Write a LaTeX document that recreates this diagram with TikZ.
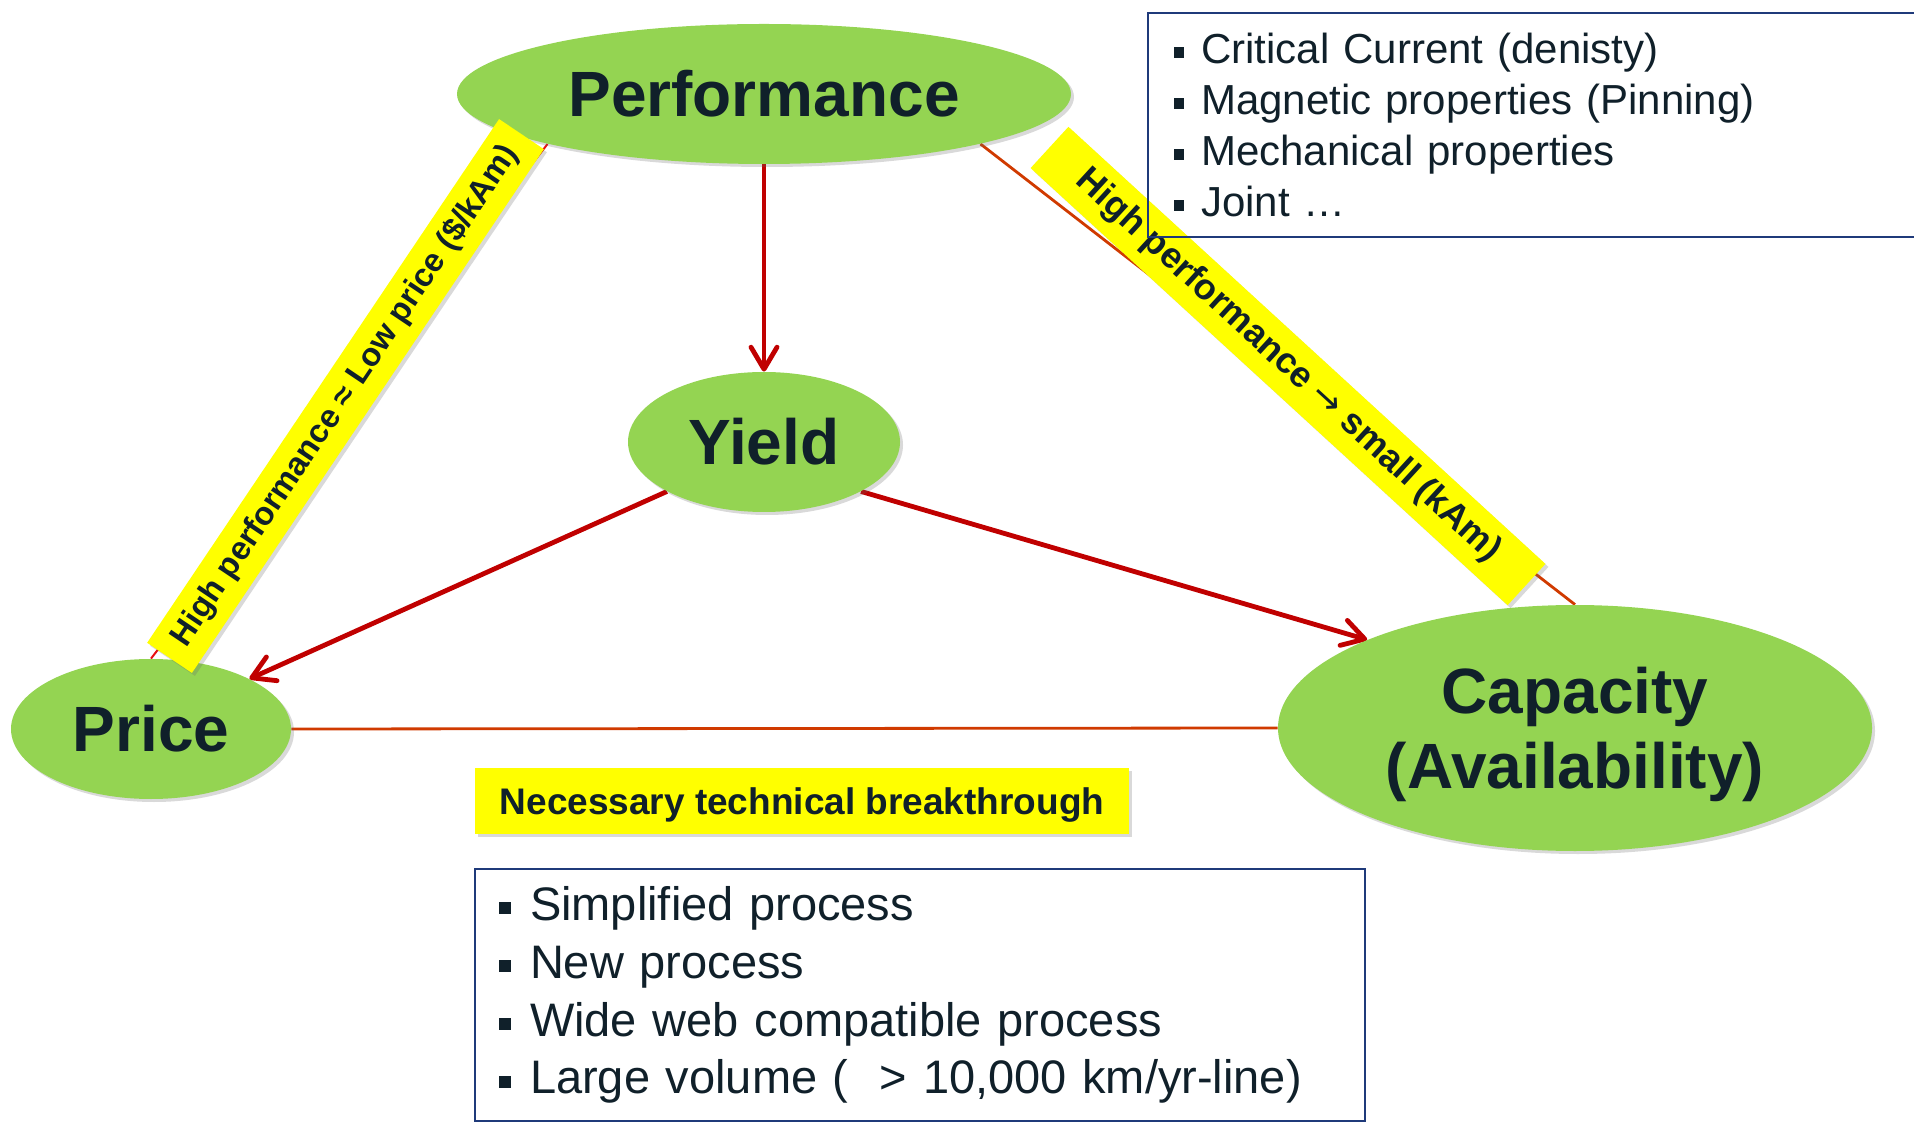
\documentclass[tikz,border=0pt]{standalone}
\usepackage{fontspec}
\setmainfont{Liberation Sans}
\newfontfamily\arrowfont{DejaVu Sans}
\usepackage{xcolor}
\definecolor{LeafGreen}{HTML}{94D452}
\definecolor{MarkYellow}{HTML}{FFFF00}
\definecolor{ArrowRed}{HTML}{C00000}
\definecolor{RustLine}{HTML}{D03A00}
\definecolor{LinkRed}{HTML}{E81010}
\definecolor{FrameNavy}{HTML}{1F3A7A}
\definecolor{InkDark}{HTML}{10202A}
\usepackage{tikz}
\usetikzlibrary{arrows.meta,positioning,shapes.geometric,shadows,backgrounds}
\newcommand{\sqbullet}{\rule[0.13em]{0.26em}{0.26em}\hspace{0.4em}}
\tikzset{
  softshadow/.style={
    drop shadow={shadow xshift=1.5pt,shadow yshift=-1.5pt,opacity=0.25,fill=black!60}
  },
  goalnode/.style={
    ellipse,
    fill=LeafGreen,
    inner sep=0pt,
    text=InkDark,
    align=center,
    font=\fontsize{32}{37.5}\selectfont\bfseries,
    softshadow
  },
  tradelabel/.style={
    fill=MarkYellow,
    text=InkDark,
    inner sep=0pt,
    minimum height=27pt,
    softshadow
  },
  notebox/.style={
    draw=FrameNavy,
    line width=1pt,
    text=InkDark,
    align=left,
    inner xsep=12pt,
    inner ysep=0pt
  },
  keyarrow/.style={
    draw=ArrowRed,
    line width=2.4pt,
    -{Straight Barb[length=11pt,width=13pt,round]}
  },
  tieline/.style={
    draw=RustLine,
    line width=1.4pt
  }
}

\begin{document}
\begin{tikzpicture}[x=0.5pt,y=0.5pt]
  \useasboundingbox (0,0) rectangle (1914,1125);
  \clip (0,0) rectangle (1914,1125);
  \node[goalnode, minimum width=307pt, minimum height=70pt] (perf) at (764,1031) {Performance};
  \node[goalnode, minimum width=136pt, minimum height=70pt] (yield) at (764,683) {Yield};
  \node[goalnode, minimum width=140pt, minimum height=70pt] (price) at (151,396) {Price};
  \node[goalnode, minimum width=297pt, minimum height=123pt, text depth=0pt] (capacity) at (1575,397) {Capacity\\(Availability)};
  \node[tradelabel, rotate=56.1, minimum width=315.5pt, font=\fontsize{16.3}{19}\selectfont\bfseries] (costlink) at (345.5,729) {High performance ≈ Low price (\$/kAm)};
  \node[tradelabel, rotate=-42.5, minimum width=323.5pt, minimum height=28pt, font=\fontsize{18}{21}\selectfont\bfseries] (sizelink) at (1288,759) {High performance {\arrowfont\mdseries →} small (kAm)};
  \node[tradelabel, minimum width=327pt, minimum height=33pt, text depth=0pt, font=\fontsize{18.5}{21}\selectfont\bfseries] (breakthrough) at (802,324) {Necessary technical breakthrough};
  \node[notebox, anchor=north west, minimum width=385.5pt, minimum height=112pt, text width=360pt, font=\fontsize{21}{25.6}\selectfont] (props) at (1147,1113) {\sqbullet Critical Current (denisty)\\\sqbullet Magnetic properties (Pinning)\\\sqbullet Mechanical properties\\\sqbullet Joint …};
  \node[notebox, minimum width=445pt, minimum height=126pt, text width=421pt, font=\fontsize{23.5}{28.9}\selectfont] (process) at (920,130) {\sqbullet Simplified process\\\sqbullet New process\\\sqbullet Wide web compatible process\\\sqbullet Large volume (~~> 10,000 km/yr-line)};
  \begin{scope}[on background layer]
    \draw[tieline, draw=LinkRed, line width=1pt] (perf.193) -- (price.north);
    \draw[tieline] (perf.347) -- (capacity.north);
    \draw[tieline] (price.east) -- (capacity.west);
    \foreach \from/\to in {perf.south/yield.north, yield.207/price.27, yield.333/capacity.157}{\draw[keyarrow] (\from) -- (\to);}
  \end{scope}
\end{tikzpicture}
\end{document}
